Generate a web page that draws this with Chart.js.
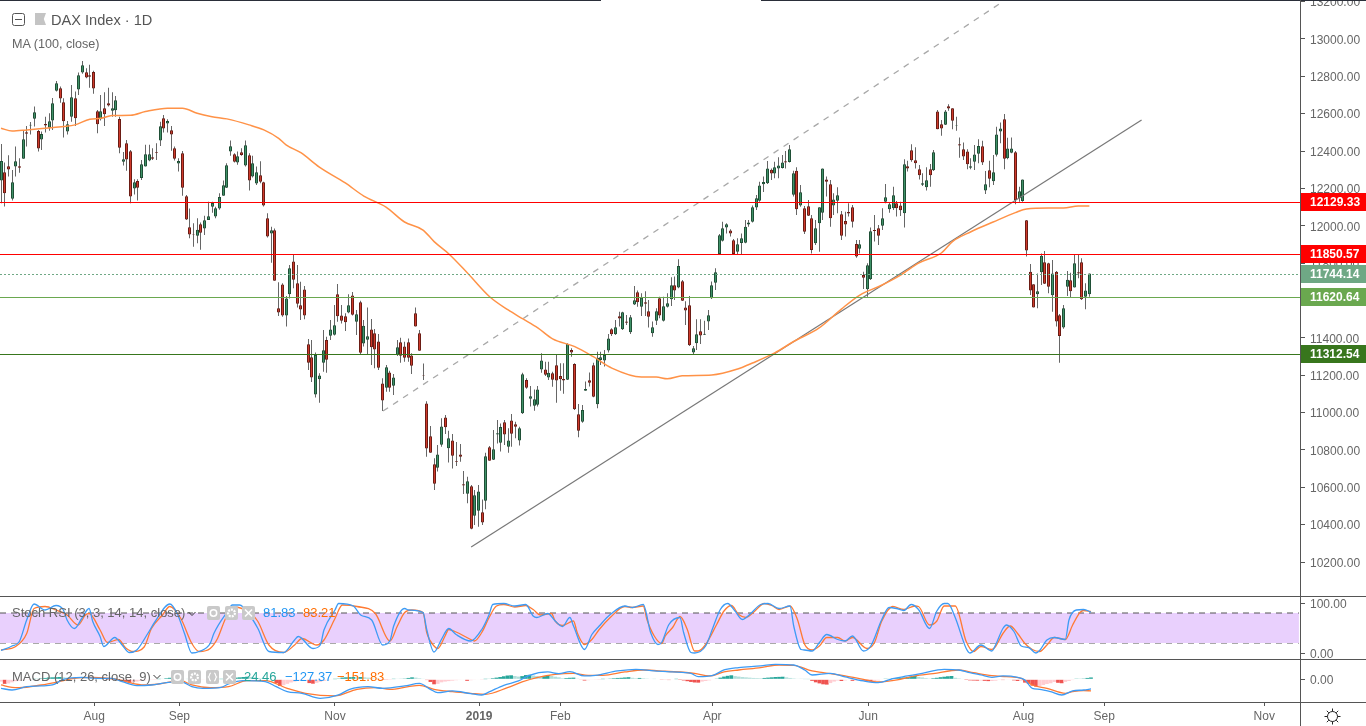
<!DOCTYPE html>
<html>
<head>
<meta charset="utf-8">
<title>DAX Index</title>
<script src="https://cdn.jsdelivr.net/npm/chart.js@4"></script>
<style>
    html, body { margin: 0; padding: 0; background: #fff; width: 1366px; height: 726px; overflow: hidden; }
    body { font-family: "Liberation Sans", Arial, sans-serif; color: #666; position: relative; }
    canvas { position: absolute; left: 0; }
    .rule { position: absolute; background: #555; }
    .txt { position: absolute; white-space: nowrap; font-size: 13px; line-height: 16px; z-index: 5; }
    .icon { position: absolute; z-index: 5; background: #c9c9c9; border-radius: 2px; width: 13px; height: 14px; }
    svg { position: absolute; z-index: 5; }
</style>
</head>
<body>
<canvas id="priceCanvas" width="1366" height="596" style="top:0"></canvas>
<canvas id="stochCanvas" width="1366" height="62" style="top:597px"></canvas>
<canvas id="macdCanvas" width="1366" height="66" style="top:660px"></canvas>

<div class="rule" style="left:0;top:0;width:601px;height:1px;background:#2a2e39"></div>
<div class="rule" style="left:761px;top:0;width:605px;height:1px;background:#2a2e39"></div>
<div class="rule" style="left:0;top:596px;width:1366px;height:1px"></div>
<div class="rule" style="left:0;top:659px;width:1366px;height:1px"></div>
<div class="rule" style="left:0;top:702px;width:1366px;height:1px"></div>
<div class="rule" style="left:1300px;top:0;width:1px;height:726px"></div>

<svg style="left:12px;top:13px" width="14" height="14"><rect x="0.5" y="0.5" width="12" height="12" rx="2" fill="none" stroke="#555"/><path d="M3 6.5h7" stroke="#555"/></svg>
<div style="position:absolute;left:35px;top:13px;width:11px;height:12px;background:#c4c4c4;clip-path:polygon(0 0,100% 0,80% 50%,100% 100%,0 100%)"></div>
<div class="txt" style="left:51px;top:11px;font-size:14.6px;line-height:18px;color:#555">DAX Index · 1D</div>
<div class="txt" style="left:12px;top:36px;font-size:12.6px">MA (100, close)</div>

<div class="txt" style="left:12px;top:605px">Stoch RSI (3, 3, 14, 14, close)</div>
<svg style="left:188px;top:611px" width="8" height="6"><path d="M0.5 1l3.5 3.5L7.5 1" fill="none" stroke="#333"/></svg>
<div class="txt" style="left:263px;top:605px;color:#2196f3">81.83</div>
<div class="txt" style="left:303px;top:605px;color:#ff6d00">83.21</div>

<div class="txt" style="left:12px;top:669px">MACD (12, 26, close, 9)</div>
<svg style="left:153px;top:674px" width="8" height="6"><path d="M0.5 1l3.5 3.5L7.5 1" fill="none" stroke="#333"/></svg>
<div class="txt" style="left:244px;top:669px;color:#26a69a">24.46</div>
<div class="txt" style="left:285px;top:669px;color:#2196f3">−127.37</div>
<div class="txt" style="left:337px;top:669px;color:#ff6d00">−151.83</div>

<svg style="left:1324px;top:708px" width="17" height="17" fill="none" stroke="#222"><circle cx="8.5" cy="8.5" r="5"/><path d="M8.5 0.5v3M8.5 13.5v3M0.5 8.5h3M13.5 8.5h3M2.8 2.8l2 2M12.2 12.2l2 2M2.8 14.2l2-2M12.2 4.8l2-2"/></svg>

<script>
// candles, one column per trading day
const opens = [
    12242,12286,12318,12145,12317,12318,12359,12500,12536,12573,
    12507,12461,12545,12524,12563,12723,12736,12661,12504,12584,
    12682,12729,12820,12821,12805,12823,12613,12570,12629,12656,
    12616,12618,12572,12343,12441,12399,12199,12240,12256,12317,
    12349,12367,12395,12456,12575,12547,12511,12415,12333,12388,
    12158,11992,11956,11947,12008,11985,12031,12102,12049,12092,
    12161,12204,12397,12383,12338,12393,12322,12377,12263,12226,
    12270,12233,12040,11958,11976,11558,11686,11519,11633,11808,
    11692,11574,11659,11365,11296,11096,11178,11267,11388,11411,
    11417,11633,11520,11515,11535,11627,11486,11590,11369,11390,
    11445,11424,11381,11156,11133,11215,11144,11310,11376,11354,
    11376,11306,11531,11424,11201,11049,10873,10723,10705,10828,
    10974,10809,10851,10740,10776,10616,10566,10605,10448,10475,
    10466,10528,10814,10748,10882,10839,10948,10817,10958,10937,
    10850,10996,11174,11074,11037,11042,11230,11231,11187,11210,
    11253,11196,11180,11176,11335,11260,10991,10951,11117,11173,
    11253,11044,11281,11278,11332,11446,11419,11515,11446,11488,
    11430,11578,11644,11567,11590,11542,11424,11492,11612,11492,
    11567,11606,11681,11670,11703,11563,11574,11321,11371,11435,
    11417,11487,11612,11695,11849,11920,11990,11975,11922,11861,
    11908,11909,12006,12022,12097,12134,12222,12227,12300,12279,
    12307,12309,12345,12341,12166,12295,12109,12093,12104,12040,
    11906,12013,12070,12248,12222,12108,12134,12061,12025,12074,
    12099,11902,11877,11736,11660,11713,11977,11986,12000,12129,
    12088,12093,12120,12109,12067,12318,12404,12350,12302,12220,
    12206,12302,12297,12612,12543,12541,12639,12629,12536,12436,
    12409,12398,12311,12343,12386,12425,12188,12297,12238,12380,
    12504,12570,12361,12391,12393,12147,12132,12029,11754,11687,
    11633,11751,11804,11799,11628,11754,11521,11455,11674,11708,
    11669,11751,11804,11620,11633
];
const highs = [
    12438,12338,12377,12299,12424,12361,12513,12534,12556,12638,
    12513,12504,12584,12602,12684,12775,12745,12682,12561,12754,
    12718,12820,12882,12843,12862,12830,12620,12700,12714,12739,
    12714,12695,12584,12395,12459,12406,12249,12249,12352,12433,
    12433,12415,12441,12557,12593,12570,12534,12424,12361,12400,
    12165,12092,12013,12040,12017,12054,12129,12129,12102,12174,
    12242,12334,12456,12388,12397,12415,12456,12388,12374,12317,
    12345,12236,12067,11995,11985,11697,11692,11624,11790,11843,
    11790,11700,11677,11394,11388,11322,11210,11442,11406,11495,
    11576,11688,11576,11531,11633,11645,11549,11599,11495,11563,
    11501,11447,11420,11183,11254,11224,11206,11388,11401,11379,
    11397,11317,11563,11442,11263,11060,10928,10755,10826,10969,
    10987,10903,10885,10842,10832,10687,10657,10612,10585,10612,
    10535,10785,10821,10907,10960,10942,10960,10916,10992,10951,
    10924,11213,11183,11142,11124,11142,11317,11272,11272,11219,
    11313,11264,11264,11371,11344,11264,11046,11041,11166,11215,
    11267,11326,11326,11335,11421,11451,11496,11540,11540,11522,
    11522,11678,11653,11638,11649,11603,11487,11558,11620,11620,
    11638,11724,11728,11820,11710,11596,11624,11356,11499,11499,
    11492,11549,11701,11772,11956,12022,12013,11981,11929,11933,
    11959,12031,12031,12109,12165,12236,12263,12347,12307,12343,
    12366,12379,12400,12432,12295,12313,12218,12106,12138,12058,
    12031,12099,12307,12263,12245,12174,12206,12079,12075,12120,
    12111,11924,11924,11754,11799,11990,12058,12004,12093,12223,
    12125,12209,12132,12129,12356,12348,12436,12420,12325,12281,
    12313,12331,12405,12620,12566,12620,12650,12629,12584,12473,
    12446,12409,12361,12432,12463,12455,12293,12348,12379,12530,
    12552,12598,12471,12473,12400,12209,12248,12031,11795,11687,
    11745,11852,11865,11802,11817,11758,11528,11576,11758,11749,
    11847,11843,11826,11692,11745
];
const lows = [
    12120,12103,12263,12135,12263,12284,12359,12424,12488,12531,
    12397,12406,12499,12509,12513,12718,12659,12472,12488,12557,
    12534,12700,12813,12789,12739,12707,12495,12563,12534,12638,
    12584,12584,12388,12322,12295,12120,12167,12135,12245,12317,
    12345,12352,12352,12427,12499,12499,12402,12349,12290,12161,
    12031,11933,11888,11906,11871,11951,12031,12070,12040,12085,
    12160,12202,12374,12338,12326,12374,12317,12188,12258,12218,
    12227,12103,11937,11802,11706,11517,11513,11460,11611,11665,
    11563,11495,11499,11228,11163,11080,11053,11219,11213,11388,
    11413,11486,11477,11436,11531,11520,11415,11313,11353,11313,
    11254,11237,11228,11008,11112,11112,11094,11303,11267,11272,
    11272,11206,11460,11331,11174,10764,10785,10585,10684,10817,
    10885,10732,10700,10714,10737,10564,10514,10375,10398,10389,
    10398,10482,10742,10746,10835,10791,10826,10785,10817,10862,
    10823,10992,11128,11032,11010,11032,11213,11196,11174,11138,
    11053,11117,11100,11174,11299,11014,10868,10946,11117,11139,
    11082,11023,11255,11246,11321,11410,11415,11460,11442,11469,
    11421,11576,11567,11517,11517,11455,11406,11469,11505,11487,
    11563,11571,11603,11665,11597,11469,11356,11308,11335,11367,
    11415,11442,11608,11656,11847,11915,11959,11942,11847,11847,
    11849,11906,11995,12017,12084,12129,12181,12224,12245,12254,
    12254,12307,12307,12339,12156,12058,12102,11956,12052,11852,
    11897,11861,12031,12156,11995,12058,12067,11924,11942,12049,
    11990,11829,11852,11662,11620,11710,11915,11897,11977,12120,
    12070,12084,12049,12052,11990,12290,12343,12307,12248,12213,
    12188,12209,12293,12516,12482,12539,12616,12516,12509,12364,
    12352,12302,12302,12298,12334,12325,12170,12206,12218,12370,
    12441,12302,12356,12388,12115,12129,12129,11835,11629,11562,
    11558,11683,11688,11638,11540,11460,11267,11449,11624,11617,
    11669,11719,11603,11553,11620
];
const closes = [
    12347,12174,12301,12233,12345,12311,12463,12493,12540,12607,
    12413,12491,12536,12559,12656,12763,12681,12559,12543,12688,
    12575,12805,12859,12793,12798,12734,12543,12613,12597,12643,
    12629,12672,12418,12356,12354,12156,12233,12204,12329,12383,
    12383,12359,12391,12532,12520,12561,12488,12359,12347,12204,
    12033,11953,11953,11979,11963,12029,12051,12122,12094,12154,
    12217,12324,12425,12343,12372,12379,12431,12242,12334,12286,
    12236,12108,11942,11976,11706,11535,11519,11611,11772,11711,
    11583,11551,11520,11267,11187,11308,11199,11333,11283,11445,
    11467,11515,11492,11483,11574,11524,11526,11320,11465,11408,
    11349,11337,11240,11064,11242,11133,11188,11349,11304,11294,
    11294,11251,11460,11331,11198,10807,10785,10619,10776,10926,
    10921,10862,10769,10737,10764,10609,10632,10378,10557,10578,
    10411,10766,10742,10803,10889,10923,10882,10851,10887,10924,
    10916,11205,11133,11087,11071,11124,11279,11203,11213,11176,
    11172,11178,11171,11367,11321,11018,10903,11014,11126,11160,
    11085,11294,11296,11308,11397,11419,11456,11503,11537,11481,
    11510,11601,11590,11615,11583,11513,11456,11542,11519,11569,
    11585,11681,11653,11785,11599,11546,11360,11344,11419,11412,
    11422,11521,11681,11751,11949,11986,12008,11958,11849,11901,
    11933,11995,12018,12099,12147,12216,12234,12307,12279,12313,
    12323,12338,12338,12409,12281,12088,12179,11968,12054,11870,
    11986,12099,12307,12236,12040,12141,12163,11947,12006,12065,
    12022,11835,11901,11722,11788,11970,11972,11947,12040,12152,
    12115,12163,12093,12083,12329,12306,12350,12334,12270,12227,
    12243,12270,12393,12516,12521,12612,12627,12562,12539,12430,
    12370,12329,12318,12382,12427,12338,12222,12252,12286,12489,
    12521,12359,12414,12413,12138,12184,12248,11867,11654,11563,
    11649,11840,11690,11674,11745,11487,11410,11558,11711,11649,
    11799,11745,11606,11654,11744.14
];

// moving average (100, close), read at these bars
const maBars = [0,3,7,12,17,20,24,27,30,35,39,45,49,53,57,61,67,71,75,77,81,86,93,98,104,109,114,117,121,126,132,137,141,145,149,155,160,165,173,177,180,184,192,199,203,209,214,221,227,232,238,243,248,254,257,262,268,274,277,283,287,291,294];
const maValues = [12522,12507,12513,12522,12531,12540,12570,12575,12590,12591,12611,12629,12629,12602,12584,12572,12540,12513,12468,12433,12391,12314,12229,12159,12100,12020,11977,11915,11849,11747,11620,11549,11501,11453,11394,11353,11299,11238,11190,11190,11181,11197,11201,11233,11265,11319,11379,11453,11554,11629,11683,11736,11801,11854,11915,11968,12020,12070,12090,12095,12095,12106,12106];

// horizontal levels and the two drawn trend lines
const priceLevels = [12129.33, 11850.57, 11744.14, 11620.64, 11312.54];
const levelColors = ['#ff0000', '#ff0000', '#6fa885', '#6aa84f', '#38761d'];
const trendBars = [127, 308.1];
const trendValues = [10280, 12566];
const dashedBars = [103.2, 270.5];
const dashedValues = [11008, 13198];

const priceTicks = [10200,10400,10600,10800,11000,11200,11400,11600,11800,12000,12200,12400,12600,12800,13000,13200];

// stoch rsi
const stochKBars = [0,3,5,7,9,12,15,17,18,20,22,24,25,27,28,31,33,35,37,40,42,46,48,50,52,54,57,58,62,63,65,68,70,73,77,80,81,85,87,88,91,92,96,98,101,104,106,107,110,111,115,116,118,120,122,124,128,131,133,134,137,140,143,145,146,149,151,153,155,156,159,161,163,166,170,172,175,177,179,180,182,185,186,188,189,192,194,196,198,200,202,204,207,209,212,215,216,218,219,221,223,225,228,230,232,235,237,240,242,244,246,248,250,253,255,257,258,260,263,264,267,270,271,273,274,276,278,280,282,283,285,287,290,291,293,295,297];
const stochK = [5,14,23,66,98,86,95,86,66,49,69,89,63,33,13,31,16,1,6,39,63,98,79,39,0,3,19,39,86,96,96,73,49,3,1,26,33,9,16,46,86,99,94,76,66,16,25,54,89,86,81,47,2,27,49,37,24,47,77,97,99,94,97,74,71,79,64,53,71,54,7,37,54,77,94,91,97,41,17,21,57,71,41,1,0,14,51,87,99,84,67,77,97,99,89,94,54,7,6,4,21,37,27,24,34,4,14,67,91,89,85,97,87,49,84,99,99,71,9,0,16,4,16,49,56,43,14,11,0,5,26,31,27,66,86,87,81.83];
const stochDBars = [0,4,7,9,12,15,18,21,23,24,27,29,32,34,36,39,41,44,46,49,52,54,57,59,61,63,68,70,73,77,80,82,86,88,91,93,97,102,106,108,110,112,115,116,118,119,121,122,124,128,129,131,133,135,137,140,143,145,147,150,151,153,156,157,159,161,163,166,170,172,175,176,178,180,181,183,185,187,189,190,192,195,197,199,201,203,205,208,210,212,215,217,219,221,223,225,228,230,232,236,238,240,243,246,249,250,253,255,257,260,263,265,267,270,271,273,275,277,279,281,283,285,287,290,292,294,295,297];
const stochD = [6,13,39,89,93,86,76,56,76,79,46,21,27,10,3,12,49,76,93,69,19,3,9,29,66,93,79,63,16,1,16,29,16,26,69,96,93,79,24,54,81,86,81,41,14,9,34,47,42,27,24,41,71,94,97,92,95,87,76,79,64,55,64,41,17,27,47,71,93,91,94,67,34,19,34,51,73,47,4,4,17,57,84,95,77,71,81,99,95,87,94,67,17,6,14,31,31,24,31,9,21,64,93,87,94,93,56,64,94,94,23,3,13,7,13,39,54,39,19,7,3,16,31,27,56,81,85,83.21];

// macd
const macdBars = [0,3,7,11,14,17,22,26,30,33,37,41,45,49,52,55,60,62,66,72,75,78,82,87,92,95,100,104,110,114,117,119,123,128,131,133,137,141,144,149,152,155,159,162,168,173,178,183,188,190,194,197,201,207,211,216,219,221,226,230,235,239,243,247,251,257,261,264,267,270,273,277,279,281,283,286,289,292,295,297];
const macdLine = [-119,-141,-97,-88,-75,0,26,13,13,-31,-84,-75,-44,-31,-97,-119,-106,-62,-18,-31,-97,-163,-185,-251,-207,-132,-97,-119,-88,-53,-132,-176,-154,-189,-207,-167,-79,-22,53,97,75,101,44,53,110,132,110,97,79,35,53,123,154,176,198,189,123,57,79,31,-22,-44,9,44,79,132,123,88,57,26,44,26,-9,-119,-132,-163,-207,-154,-141,-127.37];
const signalBars = [0,3,5,11,15,20,25,31,34,39,43,49,52,57,62,67,72,78,83,91,97,102,106,111,114,118,123,128,132,138,142,146,151,156,160,164,170,175,181,189,193,197,201,207,212,216,221,224,230,235,239,245,249,254,261,265,270,274,278,281,285,290,292,295,297];
const signalLine = [-75,-106,-110,-75,-40,13,26,4,-31,-75,-62,-18,-75,-110,-97,-18,-18,-119,-185,-220,-132,-110,-132,-97,-79,-132,-163,-185,-198,-110,-35,22,66,79,53,53,97,123,106,79,44,97,123,154,189,185,110,88,44,0,-35,0,44,75,123,88,48,35,13,-75,-119,-185,-163,-150,-151.83];
const macdHist = [
    -30,-60,-55,-40,-25,-18,-10,-5,-2,2,
    5,12,18,24,26,28,30,26,22,18,
    14,10,8,6,4,3,2,1,0,-2,
    -5,-8,-10,-22,-34,-44,-38,-30,-22,-14,
    -8,-4,-2,2,6,14,20,22,16,10,
    6,2,-4,-8,-10,-8,-6,-4,-2,0,
    2,6,12,16,22,26,30,34,32,26,
    18,12,8,4,-6,-50,-88,-78,-60,-42,
    -30,-20,-12,-8,-50,-58,-46,-34,-22,-12,
    -6,2,10,22,26,28,30,28,30,26,
    22,14,8,4,-2,-4,-2,3,6,8,
    10,18,26,22,14,8,-10,-35,-66,-60,
    -40,-30,-24,-18,-12,-8,-6,-20,-12,-8,
    -6,-3,2,8,14,22,30,40,50,53,
    44,36,42,56,60,50,42,34,42,56,
    44,34,26,14,16,20,22,4,-8,-16,
    -12,-8,-4,-1,2,6,10,14,18,20,
    24,28,20,14,18,14,10,6,3,0,
    -4,-8,-10,-6,2,-2,-15,-25,-35,-42,
    -44,-30,-22,-14,-6,4,22,36,46,53,
    42,36,30,26,22,18,16,14,18,22,
    26,30,32,34,26,18,12,8,4,2,
    1,-20,-40,-54,-66,-70,-50,-30,-16,-22,
    -14,-8,-20,-14,-8,-18,-28,-32,-24,-14,
    -6,4,8,12,16,20,24,30,36,44,
    32,24,16,10,14,20,28,34,40,44,
    20,12,6,-2,-14,-16,-18,-16,-20,-24,
    -22,-18,-4,-10,-8,-5,-14,-22,-18,-44,
    -60,-84,-96,-92,-76,-62,-52,-36,-46,-52,
    -34,-22,-10,4,8,10,18,24.46
];

// month labels under the time axis and the bar slot each one sits on
const monthLabels = ['Aug','Sep','Nov','2019','Feb','Apr','Jun','Aug','Sep','Nov'];
const monthBars = [25.4,48.6,91,130.3,152.4,193.8,236.3,278.6,300.6,344.2];

const FONT = '"Liberation Sans", Arial, sans-serif';
const TEXT_COLOR = '#666';
const PLOT_RIGHT = 1300;
// px per bar; the indicator panes were read at a slightly different pitch
const PRICE_PITCH = 3.702;
const INDICATOR_PITCH = 3.67;

Chart.defaults.font.family = FONT;
Chart.defaults.animation = false;
Chart.defaults.events = [];

function xRange(pitch) {
    return { min: -1 / pitch, max: (PLOT_RIGHT - 1) / pitch };
}

function pairs(xs, ys) {
    return xs.map((x, i) => ({ x: x, y: ys[i] }));
}

function yAxis(min, max, ticks, labelSize) {
    return {
        position: 'right',
        min: min,
        max: max,
        border: { display: false },
        grid: { drawOnChartArea: false, drawTicks: true, tickLength: 5, tickColor: '#555' },
        ticks: {
            color: TEXT_COLOR,
            padding: 5,
            labelOffset: 1.5,
            autoSkip: false,
            font: { size: labelSize },
            callback: (value) => Number(value).toFixed(2)
        },
        afterBuildTicks: (scale) => { scale.ticks = ticks.map(v => ({ value: v })); },
        afterFit: (scale) => {
            scale.width = 1366 - PLOT_RIGHT;
            // no room for half a label at the top and bottom, the panes run edge to edge
            scale.paddingTop = 0;
            scale.paddingBottom = 0;
        }
    };
}

function hiddenX(pitch) {
    const r = xRange(pitch);
    return { type: 'linear', min: r.min, max: r.max, offset: false, display: false, grid: { offset: false } };
}

function lineSet(data, color, order, extra) {
    return Object.assign({
        type: 'line', data: data, borderColor: color, borderWidth: 1,
        pointRadius: 0, fill: false, order: order
    }, extra || {});
}

const baseOptions = {
    responsive: false,
    maintainAspectRatio: false,
    devicePixelRatio: 1,
    layout: { padding: 0, autoPadding: false },
    plugins: { legend: { display: false }, tooltip: { enabled: false } }
};

// --- price pane ---
const range = xRange(PRICE_PITCH);
const wickData = opens.map((_, i) => ({ x: i, y: [lows[i], highs[i]] }));
const bodyData = opens.map((open, i) => ({ x: i, y: [open, closes[i]] }));
const isUp = opens.map((open, i) => closes[i] >= open);

const levelSets = priceLevels.map((level, i) => lineSet(
    [{ x: range.min, y: level }, { x: range.max, y: level }],
    levelColors[i], 1, i === 2 ? { borderDash: [2, 2], isLevel: true } : { isLevel: true }
));

// keep the candles and level lines on whole pixels, the way the original draws them
const snapMarks = {
    id: 'snapMarks',
    beforeDatasetsDraw(chart) {
        chart.getSortedVisibleDatasetMetas().forEach(meta => {
            if (meta.type === 'bar') {
                meta.data.forEach(el => { el.x = Math.floor(el.x) + 0.5; });
            } else if (chart.data.datasets[meta.index].isLevel) {
                meta.data.forEach(el => { el.y = Math.round(el.y) + 0.5; });
            }
        });
    }
};

const levelTags = {
    id: 'levelTags',
    afterDraw(chart) {
        const ctx = chart.ctx;
        const yScale = chart.scales.y;
        ctx.save();
        ctx.textBaseline = 'middle';
        ctx.font = 'bold 12px ' + FONT;
        priceLevels.forEach((level, i) => {
            const y = Math.round(yScale.getPixelForValue(level));
            ctx.fillStyle = levelColors[i];
            ctx.fillRect(PLOT_RIGHT, y - 9, 1366 - PLOT_RIGHT, 18);
            ctx.fillStyle = '#fff';
            ctx.fillText(level.toFixed(2), 1310, y + 0.5);
        });
        ctx.restore();
    }
};

new Chart(document.getElementById('priceCanvas'), {
    type: 'bar',
    data: {
        datasets: [
            {
                data: wickData, backgroundColor: '#666', barThickness: 1, grouped: false,
                order: 6, inflateAmount: 0
            },
            {
                data: bodyData, barThickness: 3, grouped: false, order: 5, inflateAmount: 0,
                backgroundColor: isUp.map(up => up ? '#3f9268' : '#cf3a2b'),
                borderColor: isUp.map(up => up ? '#1f4f36' : '#6b1c14'),
                borderWidth: 1, borderSkipped: false
            },
            lineSet(pairs(maBars, maValues), '#ff9247', 2, { cubicInterpolationMode: 'monotone', borderWidth: 1.5 }),
            lineSet(pairs(trendBars, trendValues), '#787878', 3, { borderWidth: 1.2 }),
            lineSet(pairs(dashedBars, dashedValues), '#a8a8a8', 3, { borderDash: [6, 6], borderWidth: 1.3 })
        ].concat(levelSets)
    },
    options: Object.assign({}, baseOptions, {
        scales: {
            x: hiddenX(PRICE_PITCH),
            y: yAxis(10018, 13208.4, priceTicks, 12)
        }
    }),
    plugins: [snapMarks, levelTags]
});

// --- stoch rsi pane ---
const stochRange = xRange(INDICATOR_PITCH);
const bandLine = (value, fill) => lineSet(
    [{ x: stochRange.min, y: value }, { x: stochRange.max - 0.3, y: value }], '#555', 3,
    { borderDash: [6, 5], fill: fill, backgroundColor: '#e9d0fd' }
);

new Chart(document.getElementById('stochCanvas'), {
    type: 'line',
    data: {
        datasets: [
            bandLine(80, { target: { value: 20 } }),
            bandLine(20, false),
            lineSet(pairs(stochDBars, stochD), '#ff7a33', 2, { cubicInterpolationMode: 'monotone', borderWidth: 1.3 }),
            lineSet(pairs(stochKBars, stochK), '#3d9bf5', 1, { cubicInterpolationMode: 'monotone', borderWidth: 1.3 })
        ]
    },
    options: Object.assign({}, baseOptions, {
        scales: {
            x: hiddenX(INDICATOR_PITCH),
            y: yAxis(-12, 112, [0, 100], 12)
        }
    })
});

// --- macd pane ---
const histColors = macdHist.map((value, i) => {
    const rising = i === 0 || value >= macdHist[i - 1];
    if (value >= 0) {
        return rising ? '#26a69a' : '#b2dfdb';
    }
    return rising ? '#ffcdd2' : '#ef5350';
});
const macdRange = xRange(INDICATOR_PITCH);

new Chart(document.getElementById('macdCanvas'), {
    type: 'bar',
    data: {
        datasets: [
            {
                data: macdHist.map((value, i) => ({ x: i, y: value })),
                backgroundColor: histColors, barThickness: 3.7, order: 3, inflateAmount: 0
            },
            lineSet(pairs(signalBars, signalLine), '#ff7a33', 2, { cubicInterpolationMode: 'monotone', borderWidth: 1.3 }),
            lineSet(pairs(macdBars, macdLine), '#3d9bf5', 1, { cubicInterpolationMode: 'monotone', borderWidth: 1.3 })
        ]
    },
    options: Object.assign({}, baseOptions, {
        scales: {
            x: {
                type: 'linear',
                min: macdRange.min,
                max: macdRange.max,
                offset: false,
                border: { display: false },
                grid: { offset: false, drawOnChartArea: false, drawTicks: true, tickLength: 4, tickColor: '#555' },
                ticks: {
                    color: TEXT_COLOR,
                    autoSkip: false,
                    maxRotation: 0,
                    padding: 3,
                    font: (ctx) => ({ size: 12, weight: monthLabels[ctx.index] === '2019' ? 'bold' : 'normal' }),
                    callback: (value, index) => monthLabels[index]
                },
                afterBuildTicks: (scale) => { scale.ticks = monthBars.map(v => ({ value: v })); },
                afterFit: (scale) => { scale.height = 24; }
            },
            y: yAxis(-299.6, 254.8, [0], 12)
        }
    })
});

// grey setting buttons next to the pane titles
const buttonGlyphs = {
    eye: '<circle cx="6.5" cy="7" r="3.2" fill="none" stroke="#fff" stroke-width="1.5"/>',
    gear: '<circle cx="6.5" cy="7" r="3.4" fill="none" stroke="#fff" stroke-width="2.2" stroke-dasharray="2 1"/>',
    braces: '<path d="M5 3C3 3 4 6 2.5 7C4 8 3 11 5 11M8 3C10 3 9 6 10.5 7C9 8 10 11 8 11" fill="none" stroke="#fff" stroke-width="1.2"/>',
    close: '<path d="M3 3.5l7 7M10 3.5l-7 7" stroke="#fff" stroke-width="1.6"/>'
};

function addButton(left, top, glyph) {
    const box = document.createElement('div');
    box.className = 'icon';
    box.style.left = left + 'px';
    box.style.top = top + 'px';
    box.innerHTML = '<svg width="13" height="14" style="left:0;top:0">' + buttonGlyphs[glyph] + '</svg>';
    document.body.appendChild(box);
}

addButton(207, 606, 'eye');
addButton(225, 606, 'gear');
addButton(242, 606, 'close');
addButton(171, 670, 'eye');
addButton(188, 670, 'gear');
addButton(206, 670, 'braces');
addButton(223, 670, 'close');
</script>
</body>
</html>
